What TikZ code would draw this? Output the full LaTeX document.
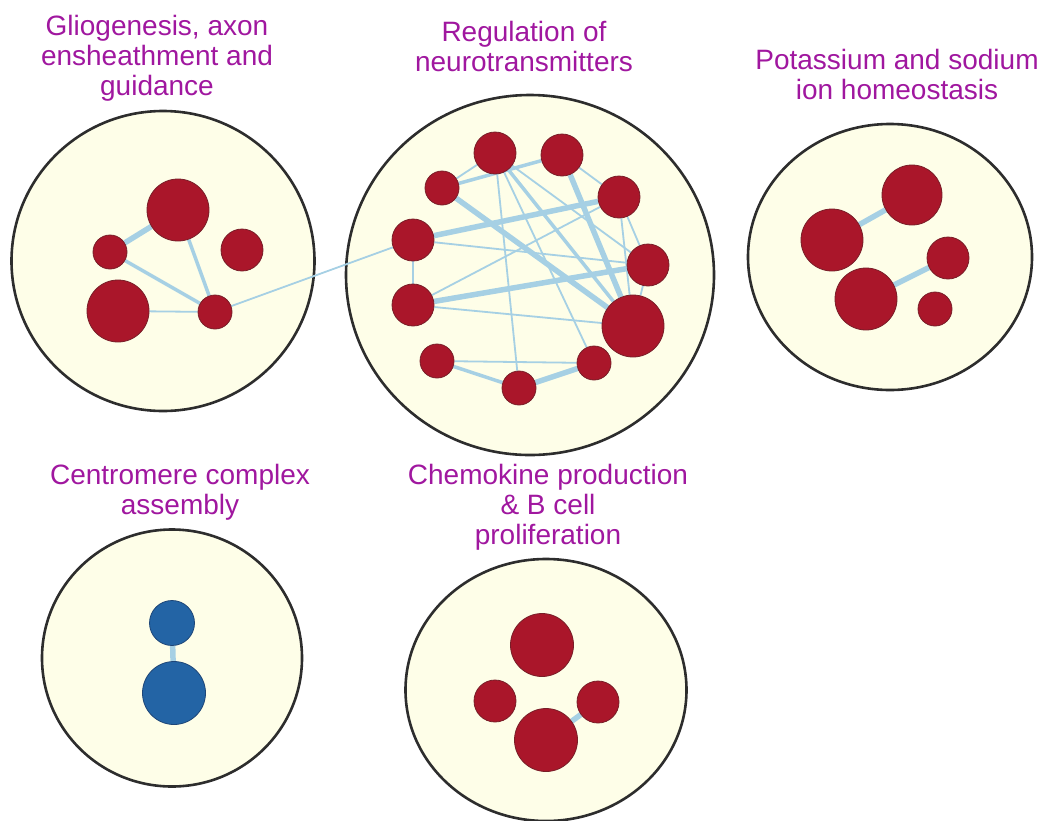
\documentclass[tikz,border=0pt]{standalone}
\usepackage{fontspec}
\setmainfont{Liberation Sans}
\usetikzlibrary{shapes.geometric}
\definecolor{lbl}{RGB}{160,23,159}
\definecolor{cream}{RGB}{254,254,232}
\definecolor{rim}{RGB}{45,45,45}
\definecolor{gred}{RGB}{170,22,42}
\definecolor{gredrim}{RGB}{120,30,40}
\definecolor{gblue}{RGB}{35,100,165}
\definecolor{gbluerim}{RGB}{30,70,120}
\definecolor{edgec}{RGB}{166,208,228}
\pgfdeclarelayer{bg}
\pgfdeclarelayer{edges}
\pgfsetlayers{bg,edges,main}
\tikzset{
  cluster/.style={ellipse, draw=rim, line width=2.6pt, fill=cream, inner sep=0pt},
  rnode/.style={circle, fill=gred, draw=gredrim, line width=0.8pt, inner sep=0pt, minimum size=#1},
  bnode/.style={circle, fill=gblue, draw=gbluerim, line width=0.8pt, inner sep=0pt, minimum size=#1},
  thin/.style={draw=edgec, line width=1.8pt},
  mid/.style={draw=edgec, line width=3.5pt},
  thick/.style={draw=edgec, line width=5.5pt},
  label/.style={text=lbl, align=center, font=\fontsize{28}{30}\selectfont, inner sep=0pt}
}
\begin{document}
\begin{tikzpicture}[x=1pt,y=-1pt]
\useasboundingbox (0,0) rectangle (1044,820);
% labels
\node[label] (t1) at (157,58) {Gliogenesis, axon\\ensheathment and\\guidance};
\node[label] (t2) at (524,46) {Regulation of\\neurotransmitters};
\node[label] (t3) at (897,74) {Potassium and sodium\\ion homeostasis};
\node[label] (t4) at (180,492) {Centromere complex\\assembly};
\node[label] (t5) at (548,507) {Chemokine production\\\& B cell\\proliferation};
% clusters
\begin{pgfonlayer}{bg}
\node[cluster, minimum width=303pt, minimum height=300pt] (c1) at (163,261) {};
\node[cluster, minimum width=368pt, minimum height=360pt] (c2) at (530,275) {};
\node[cluster, minimum width=284pt, minimum height=266pt] (c3) at (890,257) {};
\node[cluster, minimum width=260pt, minimum height=257pt] (c4) at (172,658) {};
\node[cluster, minimum width=281pt, minimum height=262pt] (c5) at (546,690) {};
\end{pgfonlayer}
% cluster 1
\node[rnode=62pt] (l1) at (178,210) {};
\node[rnode=34pt] (l2) at (110,252) {};
\node[rnode=42pt] (l3) at (242,250) {};
\node[rnode=62pt] (l4) at (118,311) {};
\node[rnode=34pt] (l5) at (215,312) {};
% cluster 2
\node[rnode=42pt] (a) at (495,153) {};
\node[rnode=42pt] (b) at (562,155) {};
\node[rnode=34pt] (c) at (442,188) {};
\node[rnode=42pt] (d) at (619,197) {};
\node[rnode=42pt] (e) at (413,240) {};
\node[rnode=42pt] (f) at (648,265) {};
\node[rnode=42pt] (g) at (413,305) {};
\node[rnode=62pt] (h) at (633,326) {};
\node[rnode=34pt] (i) at (437,361) {};
\node[rnode=34pt] (j) at (594,363) {};
\node[rnode=34pt] (k) at (519,388) {};
% cluster 3
\node[rnode=60pt] (r1) at (912,195) {};
\node[rnode=62pt] (r2) at (832,240) {};
\node[rnode=42pt] (r3) at (948,258) {};
\node[rnode=62pt] (r4) at (866,299) {};
\node[rnode=34pt] (r5) at (935,309) {};
% cluster 4
\node[bnode=45pt] (u1) at (172,623) {};
\node[bnode=63pt] (u2) at (174,693) {};
% cluster 5
\node[rnode=63pt] (m1) at (542,645) {};
\node[rnode=42pt] (m2) at (495,701) {};
\node[rnode=42pt] (m3) at (598,702) {};
\node[rnode=63pt] (m4) at (546,740) {};
% edges
\begin{pgfonlayer}{edges}
\draw[thick] (l2) -- (l1);
\draw[mid] (l2) -- (l5);
\draw[mid] (l1) -- (l5);
\draw[thin] (l4) -- (l5);
\draw[thin] (l5) -- (e);
\draw[thick] (e) -- (d);
\draw[thick] (g) -- (f);
\draw[thick] (c) -- (h);
\draw[thick] (b) -- (h);
\draw[mid] (c) -- (b);
\draw[thick] (k) -- (j);
\draw[mid] (i) -- (k);
\draw[thin] (c) -- (a);
\draw[thin] (a) -- (k);
\draw[thin] (a) -- (j);
\draw[mid] (a) -- (h);
\draw[thin] (a) -- (f);
\draw[thin] (e) -- (f);
\draw[thin] (g) -- (h);
\draw[thin] (g) -- (d);
\draw[thin] (e) -- (g);
\draw[thin] (i) -- (j);
\draw[thin] (b) -- (d);
\draw[thin] (d) -- (f);
\draw[thin] (d) -- (h);
\draw[thin] (f) -- (h);
\draw[thick] (r2) -- (r1);
\draw[thick] (r4) -- (r3);
\draw[thick] (u1) -- (u2);
\draw[thick] (m4) -- (m3);
\end{pgfonlayer}
\end{tikzpicture}
\end{document}
